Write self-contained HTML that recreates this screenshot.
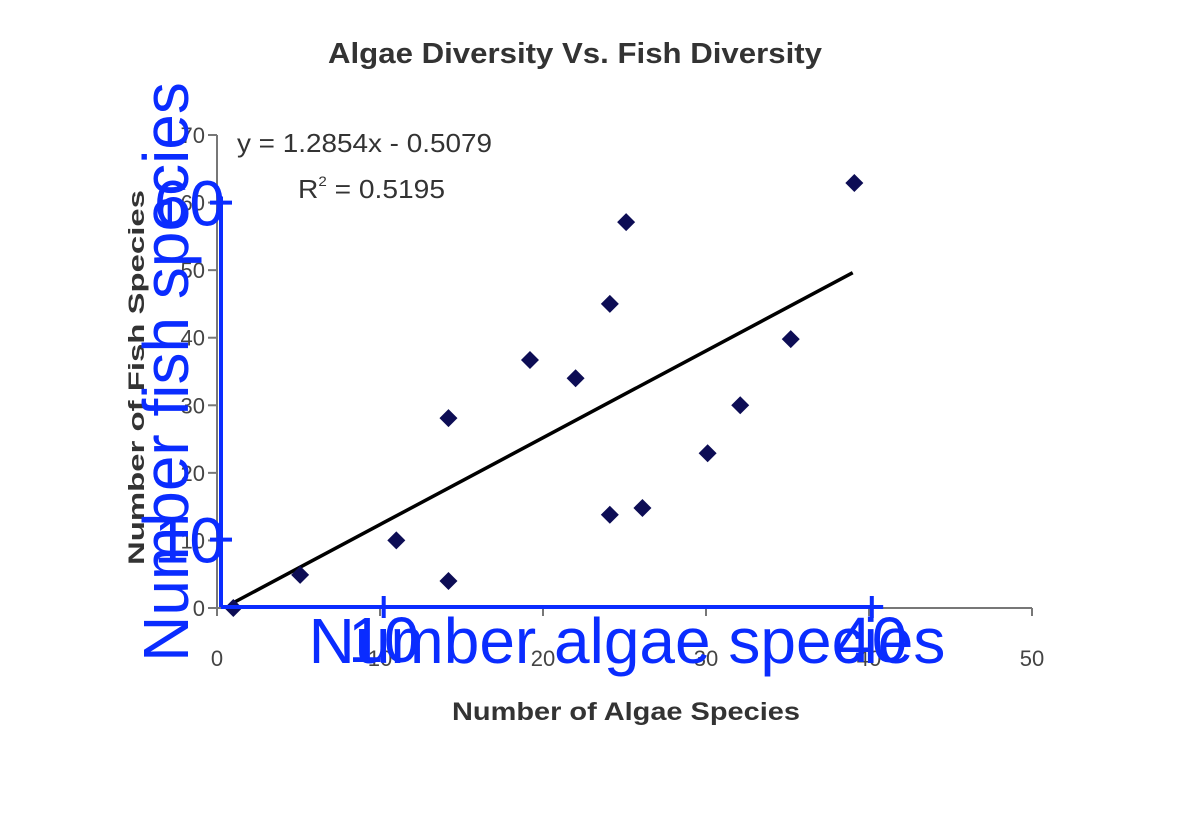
<!DOCTYPE html>
<html><head><meta charset="utf-8"><style>
html,body{margin:0;padding:0;background:#fff;}
svg{display:block;}
</style></head><body>
<svg id="chart" width="1178" height="836" viewBox="0 0 1178 836" xmlns="http://www.w3.org/2000/svg" font-family="Liberation Sans, sans-serif">
<rect width="1178" height="836" fill="#fff"/>
<text x="328" y="63" font-size="29" font-weight="bold" fill="#333" textLength="494" lengthAdjust="spacingAndGlyphs">Algae Diversity Vs. Fish Diversity</text>
<g id="inner"></g>
<text x="237" y="152" font-size="26" fill="#333" textLength="255" lengthAdjust="spacingAndGlyphs">y = 1.2854x - 0.5079</text>
<text x="298" y="198" font-size="26" fill="#333" textLength="147" lengthAdjust="spacingAndGlyphs">R<tspan font-size="14" dy="-12">2</tspan><tspan dy="12"> = 0.5195</tspan></text>
<text x="452" y="720" font-size="25" font-weight="bold" fill="#333" textLength="348" lengthAdjust="spacingAndGlyphs">Number of Algae Species</text>
<text x="0" y="0" font-size="22" font-weight="bold" fill="#333" transform="translate(144 565) rotate(-90)" textLength="375" lengthAdjust="spacingAndGlyphs">Number of Fish Species</text>
<g id="overlay"></g>
</svg>
<script>
const algae = [1,5.1,11,14.2,14.2,19.2,22,24.1,24.1,25.1,26.1,30.1,32.1,35.2,39.1];
const fish  = [0,4.9,10,4,28.1,36.7,34,45,13.8,57.1,14.8,22.9,30,39.8,62.9];
const xTicks = [0,10,20,30,40,50];
const yTicks = [0,10,20,30,40,50,60,70];
const trendX = [1,39];
const slope = 1.2854, intercept = -0.5079;
const blueXTicks = [10,40];
const blueYTicks = [10,60];

const NS='http://www.w3.org/2000/svg';
function X(v){return 217+v*16.3;}
function Y(v){return 608-v*6.757;}
function BX(v){return 221+v*16.27;}
function BY(v){return 607-v*6.74;}
function mk(tag,attrs,parent){const e=document.createElementNS(NS,tag);for(const k in attrs)e.setAttribute(k,attrs[k]);parent.appendChild(e);return e;}
const inner=document.getElementById('inner');
const ov=document.getElementById('overlay');

let a=mk('line',{x1:X(0),y1:Y(0),x2:X(50),y2:Y(0),stroke:'#777','stroke-width':2},inner);


a=mk('line',{x1:X(0),y1:Y(0),x2:X(0),y2:Y(70),stroke:'#777','stroke-width':2},inner);


xTicks.forEach(t=>{
  const l=mk('line',{x1:X(t),y1:Y(0),x2:X(t),y2:Y(0)+8,stroke:'#777','stroke-width':2},inner);
  
  
  const s=mk('text',{x:X(t),y:666,'text-anchor':'middle','font-size':22,fill:'#444'},inner);
  s.textContent=t;
  
  
});
yTicks.forEach(t=>{
  const l=mk('line',{x1:X(0)-9,y1:Y(t),x2:X(0),y2:Y(t),stroke:'#777','stroke-width':2},inner);
  
  
  const s=mk('text',{x:X(0)-12,y:Y(t)+8,'text-anchor':'end','font-size':22,fill:'#444'},inner);
  s.textContent=t;
  
  
});
const tl=mk('line',{x1:X(trendX[0]),y1:Y(slope*trendX[0]+intercept),x2:X(trendX[1]),y2:Y(slope*trendX[1]+intercept),stroke:'#000','stroke-width':3.5},inner);


algae.forEach((v,i)=>{
  const cx=X(v),cy=Y(fish[i]),r=9;
  const p=mk('polygon',{points:`${cx},${cy-r} ${cx+r},${cy} ${cx},${cy+r} ${cx-r},${cy}`,fill:'#0d0d55'},inner);
  
  
});

// blue overlay
const blue='#0a2cff';
a=mk('line',{x1:BX(0),y1:BY(0),x2:BX(40.7),y2:BY(0),stroke:blue,'stroke-width':4},ov);


a=mk('line',{x1:BX(0),y1:BY(0),x2:BX(0),y2:BY(60.9),stroke:blue,'stroke-width':4},ov);


blueXTicks.forEach(t=>{
  const l=mk('line',{x1:BX(t),y1:BY(0)-11,x2:BX(t),y2:BY(0)+11,stroke:blue,'stroke-width':4},ov);
  
  
  const s=mk('text',{x:BX(t),y:662,'text-anchor':'middle','font-size':64,fill:blue},ov);
  s.textContent=t;
  
  
});
blueYTicks.forEach(t=>{
  const l=mk('line',{x1:BX(0)-11,y1:BY(t),x2:BX(0)+11,y2:BY(t),stroke:blue,'stroke-width':4},ov);
  
  
  const s=mk('text',{x:BX(0)+4,y:BY(t)+23,'text-anchor':'end','font-size':64,fill:blue},ov);
  s.textContent=t;
  
  
});
let s=mk('text',{x:627,y:663,'text-anchor':'middle','font-size':64,fill:blue},ov);
s.textContent='Number algae species';


s=mk('text',{x:0,y:0,'text-anchor':'middle','font-size':64,fill:blue,transform:'translate(188 372) rotate(-90)'},ov);
s.textContent='Number fish species';


</script>
</body></html>
